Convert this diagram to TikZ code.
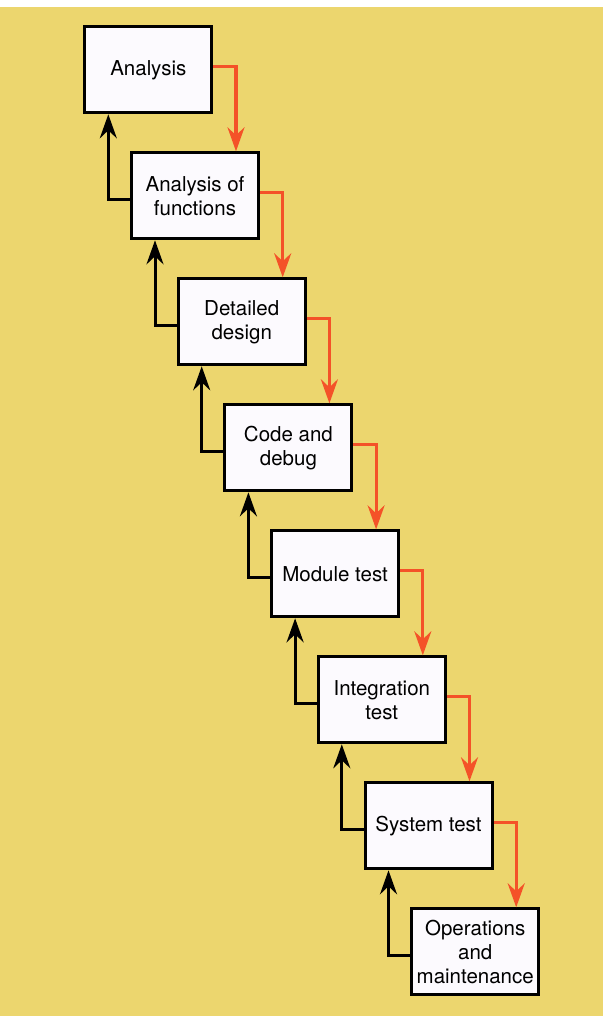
\documentclass[tikz,border=0pt]{standalone}
\usepackage{fontspec}
\setmainfont{TeX Gyre Heros}
\usetikzlibrary{arrows.meta,calc}
\definecolor{bgyellow}{RGB}{236,214,110}
\definecolor{arrowred}{RGB}{244,82,40}
\definecolor{boxfill}{RGB}{252,250,254}
\begin{document}
\begin{tikzpicture}[x=1pt,y=-1pt,
  stagebox/.style={draw=black,line width=3pt,fill=boxfill,anchor=north west,
    minimum width=127pt,minimum height=86pt,inner sep=0pt,align=center,
    font=\fontsize{20.5}{24}\selectfont},
  fwd/.style={draw=arrowred,line width=3.2pt,-{Stealth[length=24pt,width=17pt,inset=8pt]}},
  back/.style={draw=black,line width=3pt,-{Stealth[length=24pt,width=17pt,inset=8pt]}}]
\fill[bgyellow] (0,0) rectangle (603,1016);
\fill[white] (0,0) rectangle (603,7);
\useasboundingbox (0,0) rectangle (603,1016);
\node[stagebox] (b1) at (83.3,25.3) {Analysis};
\node[stagebox] (b2) at (130.0,151.3) {Analysis of\\functions};
\node[stagebox] (b3) at (176.7,277.3) {Detailed\\design};
\node[stagebox] (b4) at (223.4,403.3) {Code and\\debug};
\node[stagebox] (b5) at (270.1,529.3) {Module test};
\node[stagebox] (b6) at (316.8,655.3) {Integration\\test};
\node[stagebox] (b7) at (363.5,781.3) {System test};
\node[stagebox] (b8) at (410.2,907.3) {Operations\\and\\maintenance};
\foreach \a/\b in {b1/b2,b2/b3,b3/b4,b4/b5,b5/b6,b6/b7,b7/b8}{
  \draw[fwd] ([yshift=3.5pt]\a.east) -| ([xshift=-24pt]\b.north east);
  \draw[back] ([yshift=-4pt]\b.west) -| ([xshift=25pt]\a.south west);
}
\end{tikzpicture}
\end{document}
